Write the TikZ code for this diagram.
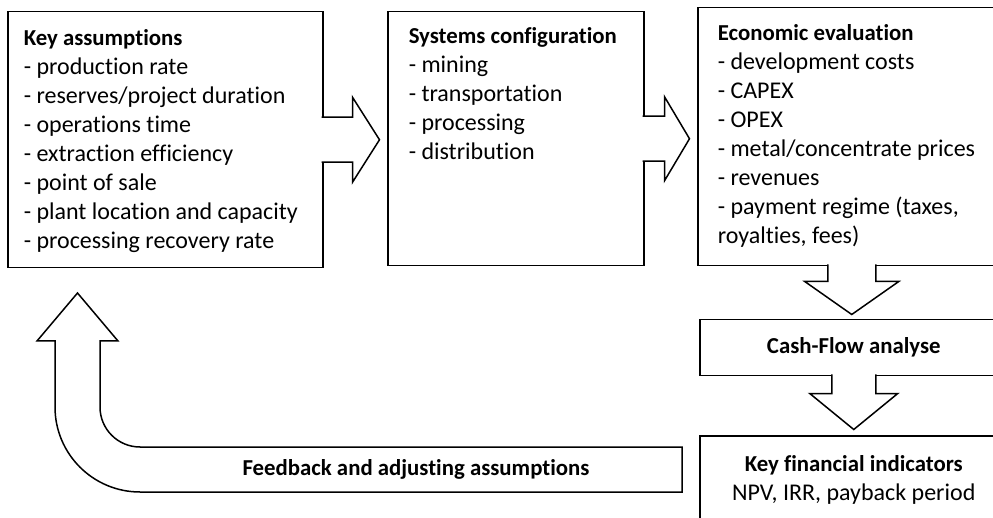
\documentclass[tikz,border=0pt]{standalone}
\usepackage{fontspec}
\setmainfont[Ligatures=NoCommon]{Carlito}
\usetikzlibrary{calc,positioning}
\def\head#1{{\fontsize{22.8}{29}\selectfont\bfseries #1}}
% block arrows: start anchor, shaft length, half shaft, head length, half head
\def\rightBlock#1#2#3#4#5{\draw[blockArrow] ($(#1)+(-2,-#3)$) -- ++(#2+2,0) -- ++(0,#3-#5) -- ++(#4,#5) -- ++(-#4,#5) -- ++(0,#3-#5) -- ++(-#2-2,0);}
\def\downBlock#1#2#3#4#5{\draw[blockArrow] ($(#1)+(-#3,-2)$) -- ++(0,#2+2) -- ++(#3-#5,0) -- ++(#5,#4) -- ++(#5,-#4) -- ++(#3-#5,0) -- ++(0,-#2-2);}

\begin{document}
\begin{tikzpicture}[
    x=1pt, y=-1pt,
    line width=1.5pt,
    every node/.style={font=\fontsize{24}{29}\selectfont},
    stageBox/.style={draw, rectangle, inner sep=0pt, anchor=north west, align=center},
    itemList/.style={align=left, inner sep=0pt},
    blockArrow/.style={draw, fill=white, line join=miter},
  ]
  \useasboundingbox (0,0) rectangle (993,518);
  % stages
  \node[stageBox, minimum width=315, minimum height=256] (keyA) at (7,11) {};
  \node[stageBox, minimum width=256, minimum height=254] (sysC) at (387,11) {};
  \node[stageBox, minimum width=308, minimum height=258] (econ) at (697,7) {};
  \node[stageBox, minimum width=308, minimum height=56] (cash) at (699,319) {\head{Cash-Flow analyse}};
  \node[stageBox, minimum width=308, minimum height=88] (kfi) at (699,435)
    {\head{Key financial indicators}\\NPV, IRR, payback period};
  % lists
  \node[itemList, below right=18pt and 16pt of keyA.north west] (keyAList) {\head{Key assumptions}\\
    - production rate\\- reserves/project duration\\- operations time\\- extraction efficiency\\
    - point of sale\\- plant location and capacity\\- processing recovery rate};
  \node[itemList, below right=16pt and 21pt of sysC.north west] (sysCList) {\head{Systems configuration}\\
    - mining\\- transportation\\- processing\\- distribution};
  \node[itemList, below right=17pt and 20pt of econ.north west] (econList) {\head{Economic evaluation}\\
    - development costs\\- CAPEX\\- OPEX\\- metal/concentrate prices\\- revenues\\
    - payment regime (taxes,\\royalties, fees)};
  % arrows
  \rightBlock{keyA.east}{29}{22.5}{27}{42.5}
  \rightBlock{sysC.east}{20}{22.5}{25}{42}
  \downBlock{econ.south}{15}{24}{33}{47}
  \downBlock{cash.south}{17}{22}{36}{44}
  % feedback
  \coordinate (fbTip) at (77.5,293);
  \draw[blockArrow] (fbTip) -- ++(40.5,48) -- ++(-18,0) -- (100,407) arc (180:90:40) -- (682,447)
    -- (682,492) -- (140,492) arc (90:180:85) -- (55,341) -- ++(-18,0) -- cycle;
  \node (fbLabel) at (416,469) {\head{Feedback and adjusting assumptions}};
\end{tikzpicture}
\end{document}
